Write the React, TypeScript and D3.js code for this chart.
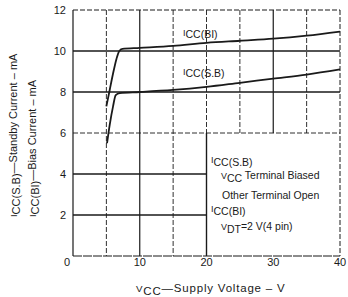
import React from "react";
import * as d3 from "d3";

// supply voltage (V) vs current (mA)
const biVolts = [5.0, 5.5, 6.0, 6.5, 6.9, 7.4, 10, 15, 20, 25, 30, 35, 40];
const biCurrent = [7.3, 8.1, 8.9, 9.6, 9.98, 10.1, 10.15, 10.25, 10.4, 10.5, 10.6, 10.75, 10.95];
const sbVolts = [5.1, 5.5, 6.0, 6.4, 7.0, 10, 15, 20, 25, 30, 35, 40];
const sbCurrent = [5.5, 6.4, 7.3, 7.85, 7.95, 8.0, 8.1, 8.25, 8.45, 8.65, 8.85, 9.1];

const xTicks = [0, 10, 20, 30, 40];
const yTicks = [2, 4, 6, 8, 10, 12];
const xGrid = [5, 10, 15, 20, 25, 30, 35];
const yGrid = [2, 4, 6, 8, 10];

const ink = "#1a1a1a";
const font = "'Liberation Sans', Arial, sans-serif";

// "I" small, subscript letters nearly full size, like the scan
function Sub({ main, sub, rest }: { main: string; sub: string; rest?: string }) {
  return (
    <>
      <tspan fontSize="0.85em">{main}</tspan>
      <tspan dy={2.5}>{sub}</tspan>
      {rest ? <tspan dy={-2.5}>{rest}</tspan> : null}
    </>
  );
}

export default function App() {
  const x = d3.scaleLinear().domain([0, 40]).range([73, 340]);
  const y = d3.scaleLinear().domain([0, 12]).range([256, 10]);

  const line = d3
    .line<[number, number]>()
    .x((d) => x(d[0]))
    .y((d) => y(d[1]))
    .curve(d3.curveMonotoneX);

  const bi = biVolts.map((v, i) => [v, biCurrent[i]] as [number, number]);
  const sb = sbVolts.map((v, i) => [v, sbCurrent[i]] as [number, number]);

  // legend box sits in the lower right, no grid in there
  const boxX = 20;
  const boxY = 6;

  return (
    <svg
      width={348}
      height={297}
      style={{ position: "absolute", left: 0, top: 0, background: "#fff" }}
      fontFamily={font}
      fill={ink}
    >
      {/* grid */}
      {xGrid.map((v) => {
        const solid = v === 10 || v === 30;
        const y0 = v > boxX ? y(boxY) : y(0);
        return (
          <line
            key={"gx" + v}
            x1={x(v)}
            x2={x(v)}
            y1={y(12)}
            y2={y0}
            stroke={ink}
            strokeWidth={solid ? 1.2 : 0.9}
            strokeDasharray={solid ? undefined : "5,2"}
          />
        );
      })}
      <line x1={x(20)} x2={x(20)} y1={y(boxY)} y2={y(0)} stroke={ink} strokeWidth={1.4} />
      {yGrid.map((v) => (
        <line
          key={"gy" + v}
          x1={x(0)}
          x2={v < boxY ? x(boxX) : x(40)}
          y1={y(v)}
          y2={y(v)}
          stroke={ink}
          strokeWidth={v === 6 ? 0.9 : 1.3}
          strokeDasharray={v === 6 ? "5,2" : undefined}
        />
      ))}

      {/* frame */}
      <line x1={x(0)} x2={x(40)} y1={y(12)} y2={y(12)} stroke={ink} strokeDasharray="5,2" />
      <line x1={x(40)} x2={x(40)} y1={y(12)} y2={y(0)} stroke={ink} strokeDasharray="5,2" />
      <line x1={x(0)} x2={x(0)} y1={y(12)} y2={y(0)} stroke={ink} strokeWidth={1.2} />
      <line x1={x(0)} x2={x(40)} y1={y(0)} y2={y(0)} stroke={ink} strokeWidth={1.2} strokeDasharray="9,1" />

      {/* curves */}
      <path d={line(bi) ?? ""} fill="none" stroke={ink} strokeWidth={1.8} />
      <path d={line(sb) ?? ""} fill="none" stroke={ink} strokeWidth={1.8} />

      {/* tick labels */}
      {yTicks.map((v) => (
        <text key={"yt" + v} x={66} y={y(v) + 4} textAnchor="end" fontSize={11}>
          {v}
        </text>
      ))}
      {xTicks.map((v) => (
        <text key={"xt" + v} x={v === 0 ? x(v) - 6 : x(v)} y={266} textAnchor="middle" fontSize={11}>
          {v}
        </text>
      ))}

      {/* curve labels */}
      <text x={183} y={35.5} fontSize={10.5}>
        <Sub main="I" sub="CC(BI)" />
      </text>
      <text x={183} y={74.5} fontSize={10.5}>
        <Sub main="I" sub="CC(S.B)" />
      </text>

      {/* legend */}
      <g fontSize={10.5}>
        <text x={211} y={163}>
          <Sub main="I" sub="CC(S.B)" />
        </text>
        <text x={221} y={179}>
          <Sub main="V" sub="CC" rest=" Terminal Biased" />
        </text>
        <text x={222} y={199}>Other Terminal Open</text>
        <text x={211} y={212}>
          <Sub main="I" sub="CC(BI)" />
        </text>
        <text x={221} y={230}>
          <Sub main="V" sub="DT" rest="=2 V(4 pin)" />
        </text>
      </g>

      {/* axis titles */}
      <text x={136} y={292} fontSize={11.5} letterSpacing={0.8}>
        <Sub main="V" sub="CC" rest="—Supply Voltage – V" />
      </text>
      <text transform="translate(17,217) rotate(-90)" fontSize={11}>
        <Sub main="I" sub="CC(S.B)" rest="—Standby Current – mA" />
      </text>
      <text transform="translate(36,217) rotate(-90)" fontSize={11}>
        <Sub main="I" sub="CC(BI)" rest="—Bias Current – mA" />
      </text>
    </svg>
  );
}
